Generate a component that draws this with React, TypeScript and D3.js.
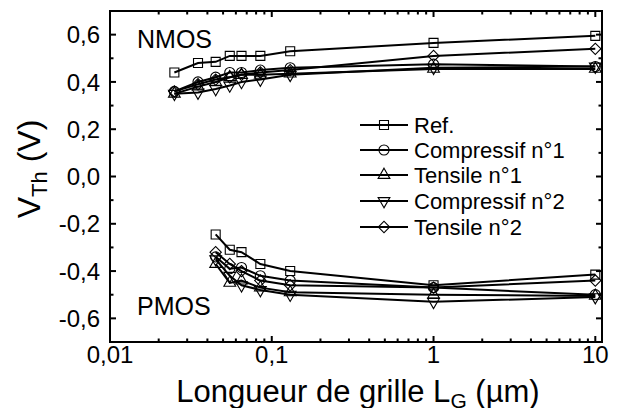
import React from 'react'
import * as d3 from 'd3'

// gate lengths (µm)
const nmosLengths = [0.025, 0.035, 0.045, 0.055, 0.065, 0.085, 0.13, 1, 10]
const pmosLengths = [0.045, 0.055, 0.065, 0.085, 0.13, 1, 10]

const seriesNames = ['Ref.', 'Compressif n°1', 'Tensile n°1', 'Compressif n°2', 'Tensile n°2']
const seriesSymbols = ['square', 'circle', 'triangle', 'triangleDown', 'diamond']

// NMOS threshold voltages (V)
const nmosRef = [0.44, 0.48, 0.485, 0.51, 0.51, 0.51, 0.53, 0.565, 0.595]
const nmosComp1 = [0.36, 0.40, 0.42, 0.44, 0.44, 0.45, 0.46, 0.475, 0.465]
const nmosTens1 = [0.35, 0.38, 0.40, 0.42, 0.43, 0.43, 0.435, 0.455, 0.455]
const nmosComp2 = [0.35, 0.355, 0.37, 0.385, 0.40, 0.41, 0.43, 0.46, 0.465]
const nmosTens2 = [0.36, 0.39, 0.41, 0.42, 0.43, 0.44, 0.45, 0.51, 0.54]

// PMOS threshold voltages (V)
const pmosRef = [-0.245, -0.31, -0.32, -0.37, -0.40, -0.46, -0.415]
const pmosComp1 = [-0.34, -0.39, -0.385, -0.42, -0.44, -0.47, -0.50]
const pmosTens1 = [-0.37, -0.45, -0.44, -0.47, -0.49, -0.50, -0.505]
const pmosComp2 = [-0.35, -0.42, -0.46, -0.48, -0.50, -0.53, -0.51]
const pmosTens2 = [-0.32, -0.37, -0.40, -0.44, -0.46, -0.47, -0.44]

const nmosSeries = [nmosRef, nmosComp1, nmosTens1, nmosComp2, nmosTens2]
const pmosSeries = [pmosRef, pmosComp1, pmosTens1, pmosComp2, pmosTens2]

const xTicks = [0.01, 0.1, 1, 10]
const xTickLabels = ['0,01', '0,1', '1', '10']
const yTicks = [-0.6, -0.4, -0.2, 0, 0.2, 0.4, 0.6]
const yTickLabels = ['-0,6', '-0,4', '-0,2', '0,0', '0,2', '0,4', '0,6']

const W = 617
const H = 408
const m = { left: 110, top: 11, right: 602, bottom: 342 }
const font = 'Liberation Sans, Arial, sans-serif'

function Marker({ kind, x, y }: { kind: string; x: number; y: number }) {
  let path = ''
  let rot = 0
  if (kind === 'square') path = d3.symbol(d3.symbolSquare, 81)() || ''
  else if (kind === 'circle') path = d3.symbol(d3.symbolCircle, 80)() || ''
  else if (kind === 'triangle') path = d3.symbol(d3.symbolTriangle, 60)() || ''
  else if (kind === 'triangleDown') { path = d3.symbol(d3.symbolTriangle, 60)() || ''; rot = 180 }
  else { path = d3.symbol(d3.symbolSquare, 64)() || ''; rot = 45 }
  return (
    <path d={path} transform={`translate(${x},${y}) rotate(${rot})`}
      fill="none" stroke="#000" strokeWidth={1.1} />
  )
}

export default function App() {
  const x = d3.scaleLog().domain([0.01, 11]).range([m.left, m.right])
  const y = d3.scaleLinear().domain([-0.7, 0.7]).range([m.bottom, m.top])

  const line = d3.line<[number, number]>().x(d => x(d[0])).y(d => y(d[1]))

  const minorX: number[] = []
  for (const dec of [0.01, 0.1, 1]) for (let k = 2; k <= 9; k++) minorX.push(dec * k)
  const minorY = d3.range(-0.7, 0.71, 0.2).map(v => +v.toFixed(1))

  const legendRows = [125, 150, 175, 201, 227]

  return (
    <svg width={W} height={H} style={{ position: 'absolute', left: 0, top: 0, background: '#fff' }}
      fontFamily={font}>
      <rect x={0} y={0} width={W} height={H} fill="#fff" />

      {/* data */}
      {[nmosSeries.map(s => s.map((v, i) => [nmosLengths[i], v] as [number, number])),
        pmosSeries.map(s => s.map((v, i) => [pmosLengths[i], v] as [number, number]))].map((group, gi) =>
        group.map((pts, si) => (
          <g key={`${gi}-${si}`}>
            <path d={line(pts) || ''} fill="none" stroke="#000" strokeWidth={2} />
            {pts.map((p, i) => <Marker key={i} kind={seriesSymbols[si]} x={x(p[0])} y={y(p[1])} />)}
          </g>
        ))
      )}

      {/* frame */}
      <rect x={m.left} y={m.top} width={m.right - m.left} height={m.bottom - m.top}
        fill="none" stroke="#000" strokeWidth={2} />

      {/* x ticks */}
      {xTicks.map((t, i) => (
        <g key={t}>
          <line x1={x(t)} x2={x(t)} y1={m.bottom} y2={m.bottom - 6} stroke="#000" strokeWidth={2} />
          <line x1={x(t)} x2={x(t)} y1={m.top} y2={m.top + 6} stroke="#000" strokeWidth={2} />
          <text x={x(t)} y={363} textAnchor="middle" fontSize={24}>{xTickLabels[i]}</text>
        </g>
      ))}
      {minorX.map(t => (
        <g key={t}>
          <line x1={x(t)} x2={x(t)} y1={m.bottom} y2={m.bottom - 3.5} stroke="#000" strokeWidth={2} />
          <line x1={x(t)} x2={x(t)} y1={m.top} y2={m.top + 3.5} stroke="#000" strokeWidth={2} />
        </g>
      ))}

      {/* y ticks */}
      {yTicks.map((t, i) => (
        <g key={t}>
          <line x1={m.left} x2={m.left + 6} y1={y(t)} y2={y(t)} stroke="#000" strokeWidth={2} />
          <line x1={m.right} x2={m.right - 6} y1={y(t)} y2={y(t)} stroke="#000" strokeWidth={2} />
          <text x={100} y={y(t)} dy="0.36em" textAnchor="end" fontSize={24}>{yTickLabels[i]}</text>
        </g>
      ))}
      {minorY.map(t => (
        <g key={t}>
          <line x1={m.left} x2={m.left + 3.5} y1={y(t)} y2={y(t)} stroke="#000" strokeWidth={2} />
          <line x1={m.right} x2={m.right - 3.5} y1={y(t)} y2={y(t)} stroke="#000" strokeWidth={2} />
        </g>
      ))}

      {/* labels */}
      <text x={137} y={48} fontSize={25}>NMOS</text>
      <text x={137} y={315} fontSize={25}>PMOS</text>

      {/* legend */}
      {seriesNames.map((name, i) => (
        <g key={name}>
          <line x1={360} x2={408} y1={legendRows[i]} y2={legendRows[i]} stroke="#000" strokeWidth={2} />
          <Marker kind={seriesSymbols[i]} x={384} y={legendRows[i]} />
          <text x={414} y={legendRows[i]} dy="0.36em" fontSize={22}>{name}</text>
        </g>
      ))}

      {/* axis titles */}
      <text x={358} y={402} textAnchor="middle" fontSize={31}>
        Longueur de grille L<tspan fontSize={21} dy={6}>G</tspan><tspan dy={-6}> (µm)</tspan>
      </text>
      <text transform={`translate(40,169) rotate(-90)`} textAnchor="middle" fontSize={32}>
        V<tspan fontSize={22} dy={7}>Th</tspan><tspan dy={-7}> (V)</tspan>
      </text>
    </svg>
  )
}
